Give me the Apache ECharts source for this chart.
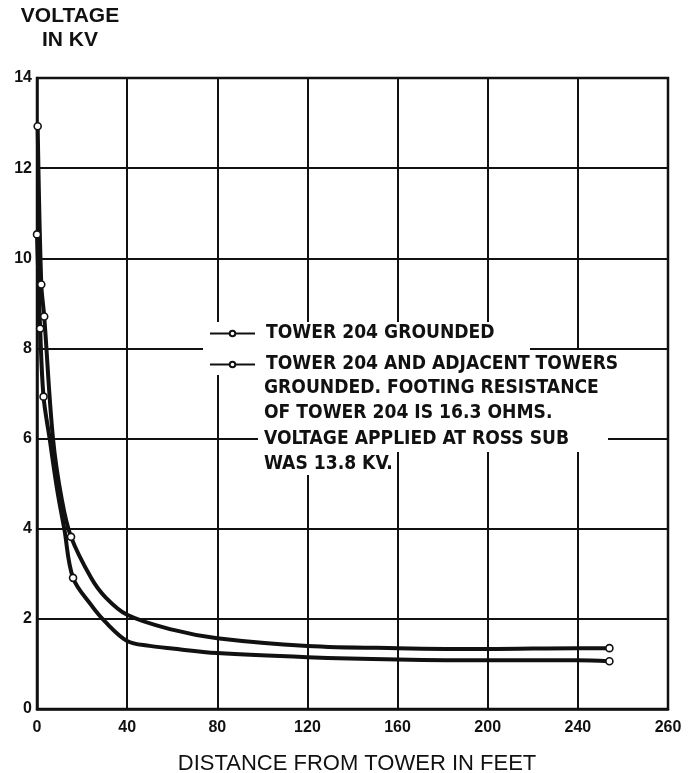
<!DOCTYPE html>
<html><head><meta charset="utf-8">
<script src="https://cdn.jsdelivr.net/npm/echarts@6/dist/echarts.min.js"></script>
<style>html,body{margin:0;padding:0;background:#fff}#c{width:698px;height:773px}</style>
</head><body><div id="c"></div>
<script>
// ---- data ----
const xTickLabels = ['0','40','80','120','160','200','240','260'];
const yTickLabels = ['0','2','4','6','8','10','12','14'];
const seriesNames = ['TOWER 204 GROUNDED', 'TOWER 204 AND ADJACENT TOWERS'];
const legendExtraLines = ['GROUNDED. FOOTING RESISTANCE', 'OF TOWER 204 IS 16.3 OHMS.', 'VOLTAGE APPLIED AT ROSS SUB', 'WAS 13.8 KV.'];
const xTitle = 'DISTANCE FROM TOWER IN FEET';
const yTitle = 'VOLTAGE\nIN KV';

const upperX = [0.3, 1.9, 3.2, 7.1, 11.0, 15.1, 24.0, 30, 40, 60, 80, 120, 160, 200, 240, 254];
const upperY = [12.93, 9.42, 8.71, 6.0, 4.65, 3.82, 2.91, 2.50, 2.09, 1.76, 1.57, 1.40, 1.35, 1.33, 1.35, 1.35];
const upperMarked = [1,1,1,0,0,1,0,0,0,0,0,0,0,0,0,1];

const lowerX = [0, 1.4, 2.9, 5.6, 9.0, 12.1, 16.0, 24.0, 30, 40, 50, 60, 80, 120, 160, 200, 240, 254];
const lowerY = [10.53, 8.44, 6.93, 6.0, 4.85, 4.0, 2.91, 2.31, 1.95, 1.51, 1.40, 1.34, 1.24, 1.15, 1.10, 1.08, 1.08, 1.06];
const lowerMarked = [1,1,1,0,0,0,1,0,0,0,0,0,0,0,0,0,0,1];

// ---- font helpers ----
function hasFont(name){
  const c = document.createElement('canvas').getContext('2d');
  const t = 'TOWER 204 GROUNDED mwil';
  c.font = 'bold 40px monospace'; const a = c.measureText(t).width;
  c.font = 'bold 40px "' + name + '", monospace'; const b = c.measureText(t).width;
  c.font = 'bold 40px serif'; const a2 = c.measureText(t).width;
  c.font = 'bold 40px "' + name + '", serif'; const b2 = c.measureText(t).width;
  return a !== b || a2 !== b2;
}
const narrowCandidates = ['Liberation Sans Narrow', 'DejaVu Sans Condensed', 'Liberation Sans'];
let legendFont = 'Liberation Sans';
for (const f of narrowCandidates) { if (hasFont(f)) { legendFont = f; break; } }
function fitSize(text, family, target){
  const c = document.createElement('canvas').getContext('2d');
  c.font = 'bold 100px "' + family + '"';
  return Math.min(24, 100 * target / c.measureText(text).width);
}
const legendSize = fitSize(legendExtraLines[0], legendFont, 335);

function mkData(xs, ys, marks){
  return xs.map((x, i) => ({ value: [x, ys[i]], symbol: marks[i] ? 'circle' : 'none' }));
}

const INK = '#111';
const chart = echarts.init(document.getElementById('c'), null, {renderer: 'canvas'});
const lineSeries = (name, xs, ys, marks) => ({
  name, type: 'line', data: mkData(xs, ys, marks),
  smooth: 0.35, showAllSymbol: true,
  symbol: 'circle', symbolSize: 7,
  lineStyle: {color: INK, width: 4},
  itemStyle: {color: '#fff', borderColor: INK, borderWidth: 1.6},
  emphasis: {disabled: true}, animation: false, z: 3
});

chart.setOption({
  animation: false,
  backgroundColor: '#fff',
  grid: {left: 37, right: 30, top: 78, bottom: 64, containLabel: false, outerBoundsMode: 'none',
    show: true, borderColor: INK, borderWidth: 2.5, backgroundColor: 'transparent'},
  xAxis: {
    type: 'value', min: 0, max: 280, interval: 40,
    axisLine: {show: true, lineStyle: {color: INK, width: 2.5}},
    axisTick: {show: false},
    splitLine: {show: true, lineStyle: {color: INK, width: 2}},
    axisLabel: {
      margin: 11, color: INK, fontFamily: 'Liberation Sans', fontWeight: 'bold', fontSize: 16,
      formatter: v => xTickLabels[Math.round(v / 40)]
    },
    name: xTitle, nameLocation: 'middle', nameGap: 44,
    nameTextStyle: {color: INK, fontFamily: 'Liberation Sans', fontSize: 22, padding: [0, 0, 0, 9]}
  },
  yAxis: {
    type: 'value', min: 0, max: 14, interval: 2,
    axisLine: {show: true, lineStyle: {color: INK, width: 2.5}},
    axisTick: {show: false},
    splitLine: {show: true, lineStyle: {color: INK, width: 2}},
    axisLabel: {
      margin: 5, color: INK, fontFamily: 'Liberation Sans', fontWeight: 'bold', fontSize: 16,
      formatter: v => yTickLabels[Math.round(v / 2)]
    },
    name: yTitle, nameLocation: 'end', nameGap: 26,
    nameTextStyle: {color: INK, fontFamily: 'Liberation Sans', fontWeight: 'bold', fontSize: 21, lineHeight: 24,
      align: 'center', verticalAlign: 'bottom', padding: [0, 0, 0, 66]}
  },
  legend: {
    orient: 'vertical', left: 209, top: 321, padding: 0, itemGap: 6,
    itemWidth: 45, itemHeight: 7, selectedMode: false, z: 20,
    textStyle: {color: INK, fontFamily: legendFont, fontWeight: 'bold', fontSize: legendSize, lineHeight: 25, padding: [0, 0, 0, 6]},
    data: seriesNames
  },
  graphic: [
    {type: 'rect', z: 10, shape: {x: 203, y: 322, width: 327, height: 28}, style: {fill: '#fff'}},
    {type: 'rect', z: 10, shape: {x: 203, y: 350, width: 410, height: 25}, style: {fill: '#fff'}},
    {type: 'rect', z: 10, shape: {x: 258, y: 375, width: 350, height: 77}, style: {fill: '#fff'}},
    {type: 'rect', z: 10, shape: {x: 258, y: 452, width: 124, height: 23}, style: {fill: '#fff'}},
    {type: 'text', z: 20, left: 264, top: 375,
      style: {text: legendExtraLines.join('\n'), fill: INK, fontFamily: legendFont, fontWeight: 'bold', fontSize: legendSize, lineHeight: 25.5}}
  ],
  series: [
    lineSeries(seriesNames[0], upperX, upperY, upperMarked),
    lineSeries(seriesNames[1], lowerX, lowerY, lowerMarked)
  ]
});
</script>
</body></html>
